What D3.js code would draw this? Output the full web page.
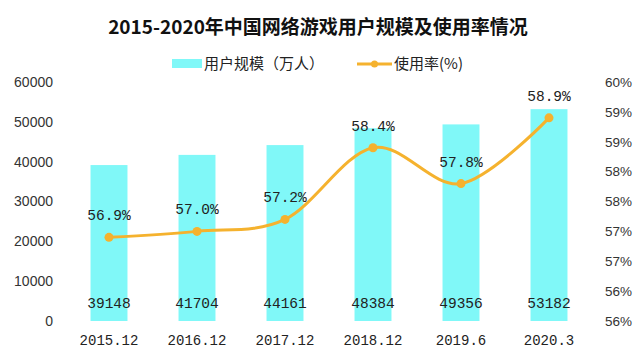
<!DOCTYPE html>
<html><head><meta charset="utf-8">
<script src="https://cdn.jsdelivr.net/npm/d3@7"></script>
<style>
html,body{margin:0;padding:0;background:#fff;}
svg{display:block;}
</style></head>
<body>
<svg id="c" width="640" height="360"></svg>
<script>
const categories = ["2015.12","2016.12","2017.12","2018.12","2019.6","2020.3"];
const users = [39148, 41704, 44161, 48384, 49356, 53182];
const rates = [56.9, 57.0, 57.2, 58.4, 57.8, 58.9];
const leftTicks = [0,10000,20000,30000,40000,50000,60000];
const rightTickValues = [55.5,56,56.5,57,57.5,58,58.5,59,59.5];
const rightTickLabels = ["56%","56%","57%","57%","58%","58%","59%","59%","60%"];
const title = "2015-2020年中国网络游戏用户规模及使用率情况";
const legendNames = ["用户规模（万人）","使用率(%)"];

const svg = d3.select("#c");
const pTop = 82, pBottom = 321, pLeft = 65, pRight = 593;
const barColor = "#80F8F8", lineColor = "#F5B22E";
const monoFont = "'Liberation Mono', 'DejaVu Sans Mono', monospace";
const sansFont = "'Liberation Sans', Arial, sans-serif";
const cjkFont = "'Noto Sans CJK SC', sans-serif";

const x = d3.scaleBand().domain(categories).range([pLeft, pRight]).paddingInner(0.58).paddingOuter(0.29);
const yL = d3.scaleLinear().domain([0, 60000]).range([pBottom, pTop]);
const yR = d3.scaleLinear().domain([55.5, 59.5]).range([pBottom, pTop]);

// title
svg.append("text").attr("x", 318).attr("y", 34).attr("text-anchor", "middle")
  .attr("font-family", cjkFont).attr("font-weight", "bold").attr("font-size", 19)
  .attr("fill", "#111").text(title);

// legend
const lg = svg.append("g");
lg.append("rect").attr("x", 172).attr("y", 59).attr("width", 30).attr("height", 9).attr("fill", barColor);
lg.append("text").attr("x", 204).attr("y", 69).attr("font-family", cjkFont).attr("font-size", 15)
  .attr("fill", "#222").text(legendNames[0]);
lg.append("line").attr("x1", 357).attr("x2", 392).attr("y1", 64).attr("y2", 64)
  .attr("stroke", lineColor).attr("stroke-width", 3);
lg.append("circle").attr("cx", 374.5).attr("cy", 64).attr("r", 3.5).attr("fill", lineColor);
lg.append("text").attr("x", 394).attr("y", 69).attr("font-family", cjkFont).attr("font-size", 15)
  .attr("fill", "#222").text(legendNames[1]);

// left axis
const axL = svg.append("g").attr("transform", `translate(${pLeft - 12},0)`)
  .call(d3.axisLeft(yL).tickValues(leftTicks).tickSize(0).tickPadding(0).tickFormat(d3.format("d")));
axL.select(".domain").remove();
axL.selectAll("text").attr("font-family", sansFont).attr("font-size", 14).attr("fill", "#333");

// right axis
const axR = svg.append("g").attr("transform", `translate(${pRight + 12},0)`)
  .call(d3.axisRight(yR).tickValues(rightTickValues).tickSize(0).tickPadding(0)
    .tickFormat((d, i) => rightTickLabels[i]));
axR.select(".domain").remove();
axR.selectAll("text").attr("font-family", sansFont).attr("font-size", 13.5).attr("fill", "#333");

// x axis
const axX = svg.append("g").attr("transform", `translate(0,${pBottom})`)
  .call(d3.axisBottom(x).tickSize(0).tickPadding(14));
axX.select(".domain").remove();
axX.selectAll("text").attr("font-family", monoFont).attr("font-size", 14).attr("fill", "#222");

// bars
svg.append("g").selectAll("rect").data(users).join("rect")
  .attr("x", (d, i) => x(categories[i]))
  .attr("width", x.bandwidth())
  .attr("y", d => yL(d))
  .attr("height", d => yL(0) - yL(d))
  .attr("fill", barColor);

// bar value labels
svg.append("g").selectAll("text").data(users).join("text")
  .attr("x", (d, i) => x(categories[i]) + x.bandwidth() / 2)
  .attr("y", pBottom - 13)
  .attr("text-anchor", "middle")
  .attr("font-family", monoFont).attr("font-size", 14.5).attr("fill", "#222")
  .text(d => d);

// line
const cx = (i) => x(categories[i]) + x.bandwidth() / 2;
const line = d3.line().x((d, i) => cx(i)).y(d => yR(d)).curve(d3.curveCardinal.tension(0));
svg.append("path").datum(rates).attr("d", line)
  .attr("fill", "none").attr("stroke", lineColor).attr("stroke-width", 3);
svg.append("g").selectAll("circle").data(rates).join("circle")
  .attr("cx", (d, i) => cx(i)).attr("cy", d => yR(d)).attr("r", 4.5).attr("fill", lineColor);

// rate labels
svg.append("g").selectAll("text").data(rates).join("text")
  .attr("x", (d, i) => cx(i)).attr("y", d => yR(d) - 17)
  .attr("text-anchor", "middle")
  .attr("font-family", monoFont).attr("font-size", 14.5).attr("fill", "#222")
  .text(d => d.toFixed(1) + "%");
</script>
</body></html>
